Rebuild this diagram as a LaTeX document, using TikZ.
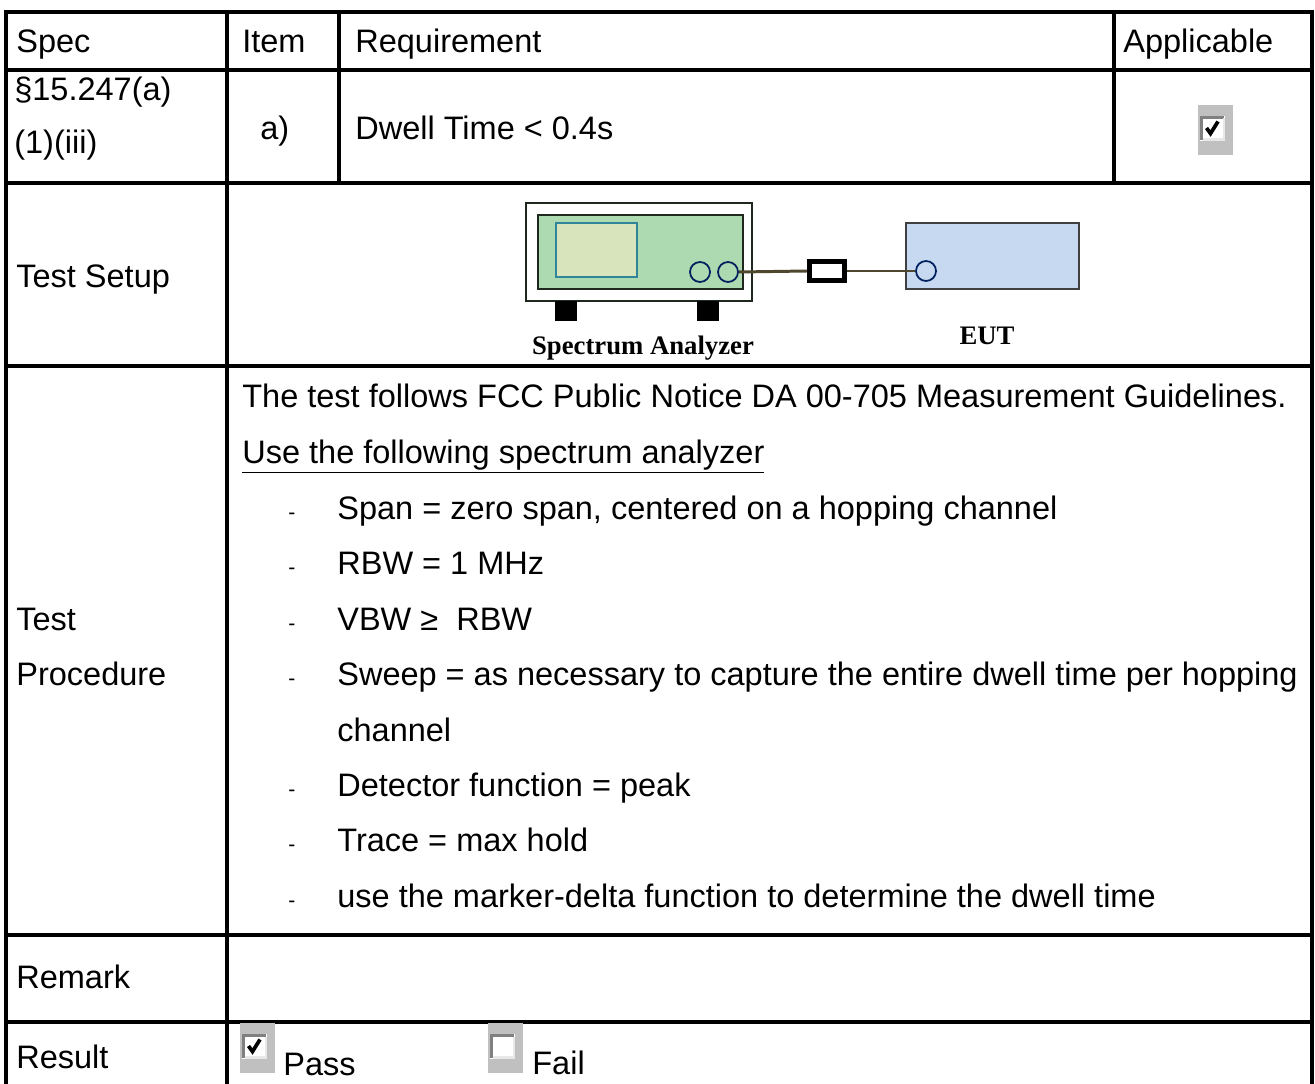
\documentclass[tikz,border=0pt]{standalone}
\usepackage{fontspec}
\setmainfont{Liberation Sans}
\newfontfamily\labelserif{Liberation Serif}
\usepackage{tikz}
\usepackage{xcolor}
\definecolor{saGreen}{RGB}{173,218,176}
\definecolor{screenFill}{RGB}{216,228,188}
\definecolor{screenEdge}{RGB}{49,133,155}
\definecolor{portBlue}{RGB}{0,32,96}
\definecolor{eutBlue}{RGB}{198,217,241}
\definecolor{cableBrown}{RGB}{79,70,46}
\definecolor{frameDark}{RGB}{30,40,30}
\definecolor{boxGray}{RGB}{192,192,192}
\definecolor{bevelDark}{RGB}{128,128,128}
\definecolor{bevelLight}{RGB}{232,232,232}
\newcommand{\tablefont}{\fontsize{18.5pt}{22pt}\selectfont}
% ticked / empty form check box, #1 = top left corner of the grey field
\newcommand{\chkbox}[2]{%
  \begin{scope}[shift={#1}]
    \fill[boxGray] (0,0) rectangle (35,50);
    \fill[white] (2,11) rectangle (27,36);
    \draw[bevelDark, line width=1.6pt] (3.5,35) -- (3.5,12.5) -- (26,12.5);
    \draw[bevelLight, line width=1.2pt] (4.5,34.5) -- (26,34.5) -- (26,13.5);
    \ifnum#2=1 \draw[black, line width=2.1pt] (8.5,23) -- (12.5,28.5) -- (20,16.5);\fi
  \end{scope}}
\tikzset{
  cell/.style={anchor=base west, inner sep=0pt, font=\tablefont},
  bul/.style={anchor=base, inner sep=0pt, font=\fontsize{12pt}{14pt}\selectfont},
  tabrule/.style={line width=1.8pt, black},
  port/.style={circle, draw=portBlue, line width=1pt, fill=none, minimum size=0.4cm, inner sep=0pt},
  cable/.style={draw=cableBrown, line width=1.7pt},
  devlabel/.style={anchor=base, inner sep=0pt, font=\labelserif\bfseries\fontsize{15.2pt}{17pt}\selectfont}
}

\begin{document}
\begin{tikzpicture}[x=0.02cm, y=-0.02cm]
  \useasboundingbox (0,0) rectangle (1315,1084);

  % table grid
  \draw[tabrule] (6,1084) -- (6,12) -- (1312,12) -- (1312,1084);
  \draw[tabrule] (6,70) -- (1312,70);
  \draw[tabrule] (6,183) -- (1312,183);
  \draw[tabrule] (6,366) -- (1312,366);
  \draw[tabrule] (6,935) -- (1312,935);
  \draw[tabrule] (6,1022) -- (1312,1022);
  \draw[tabrule] (227,12) -- (227,1084);
  \draw[tabrule] (339,12) -- (339,183);
  \draw[tabrule] (1114,12) -- (1114,183);

  % header row
  \node[cell] (spec) at (16,53) {Spec};
  \node[cell] (item) at (242,53) {Item};
  \node[cell] (req) at (355,53) {Requirement};
  \node[cell] (appl) at (1123,53) {Applicable};

  % requirement row
  \node[cell] (sec) at (14,101) {§15.247(a)};
  \node[cell] (secb) at (14,154) {(1)(iii)};
  \node[cell] (itema) at (260,140) {a)};
  \node[cell] (dwell) at (355,140) {Dwell Time < 0.4s};
  \chkbox{(1198,105)}{1}

  % test setup
  \node[cell] (setup) at (16,288) {Test Setup};
  \draw[frameDark, fill=white, line width=0.9pt] (526,203) rectangle (752,301);
  \node[draw=frameDark, fill=saGreen, line width=1.1pt, minimum width=4.1cm, minimum height=1.48cm, inner sep=0pt] (sa) at (640.5,252) {};
  \node[draw=screenEdge, fill=screenFill, line width=1pt, minimum width=1.62cm, minimum height=1.08cm, inner sep=0pt] (screen) at (596.5,250) {};
  \node[port] (saPortA) at (700,272) {};
  \node[port] (saPortB) at (728,272) {};
  \fill[black] (555,301) rectangle (577,321);
  \fill[black] (697,301) rectangle (719,321);
  \node[draw=black, fill=white, line width=2.8pt, minimum width=0.7cm, minimum height=0.38cm, inner sep=0pt] (att) at (827,271) {};
  \node[draw=black!75, fill=eutBlue, line width=1.1pt, minimum width=3.46cm, minimum height=1.32cm, inner sep=0pt] (eut) at (992.5,256) {};
  \node[port] (eutPort) at (926,271) {};
  \draw[cable] (saPortB.east) -- (att.west);
  \draw[cable] (att.east) -- (eutPort.west);
  \node[devlabel] (saLbl) at (643,355) {Spectrum Analyzer};
  \node[devlabel] (eutLbl) at (987,345) {EUT};

  % test procedure
  \node[cell] (procA) at (16,630) {Test};
  \node[cell] (procB) at (16,685) {Procedure};
  \node[cell] (follow) at (242,408) {The test follows FCC Public Notice DA 00-705 Measurement Guidelines.};
  \node[cell] (use) at (242,463) {\underline{Use the following spectrum analyzer}};
  \node[bul] (b1) at (292,519) {-};
  \node[cell] (span) at (337,519) {Span = zero span, centered on a hopping channel};
  \node[bul] (b2) at (292,574) {-};
  \node[cell] (rbw) at (337,574) {RBW = 1 MHz};
  \node[bul] (b3) at (292,630) {-};
  \node[cell] (vbw) at (337,630) {VBW ≥\ \ RBW};
  \node[bul] (b4) at (292,685) {-};
  \node[cell] (sweep) at (337,685) {Sweep = as necessary to capture the entire dwell time per hopping};
  \node[cell] (chan) at (337,741) {channel};
  \node[bul] (b5) at (292,796) {-};
  \node[cell] (det) at (337,796) {Detector function = peak};
  \node[bul] (b6) at (292,851) {-};
  \node[cell] (trace) at (337,851) {Trace = max hold};
  \node[bul] (b7) at (292,907) {-};
  \node[cell] (delta) at (337,907) {use the marker-delta function to determine the dwell time};

  % remark and result
  \node[cell] (remark) at (16,988) {Remark};
  \node[cell] (result) at (16,1068) {Result};
  \chkbox{(240,1023)}{1}
  \node[cell] (pass) at (283,1075) {Pass};
  \chkbox{(488,1023)}{0}
  \node[cell] (fail) at (532,1074) {Fail};
\end{tikzpicture}
\end{document}
